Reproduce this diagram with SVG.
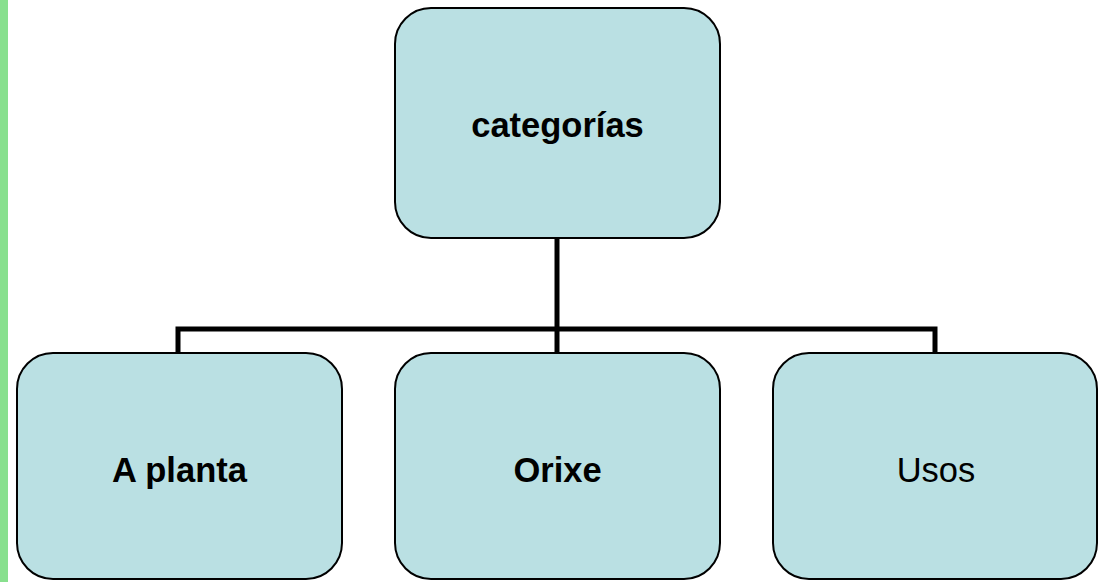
<svg xmlns="http://www.w3.org/2000/svg" width="1098" height="582" viewBox="0 0 1098 582">
  <style>
    .box { fill: #bae0e3; stroke: #000; stroke-width: 2; }
    .lbl { font-family: "Liberation Sans", Arial, sans-serif; font-size: 34.5px; fill: #000; text-anchor: middle; }
    .b { font-weight: bold; }
    .wire { fill: none; stroke: #000; stroke-width: 5; stroke-linejoin: miter; }
  </style>
  <rect x="0" y="0" width="1098" height="582" fill="#fff"/>
  <rect x="0" y="0" width="8" height="582" fill="#88e08e"/>

  <g id="connectors">
    <path class="wire" d="M557 238 V329"/>
    <path class="wire" d="M178 353 V329 H935 V353"/>
    <path class="wire" d="M557 329 V353"/>
  </g>

  <g id="node-categorias">
    <rect class="box" x="395" y="8" width="325" height="230" rx="36" ry="36"/>
    <text class="lbl b" x="557.5" y="137">categorías</text>
  </g>
  <g id="node-planta">
    <rect class="box" x="17" y="353" width="325" height="226" rx="36" ry="36"/>
    <text class="lbl b" x="179.5" y="482">A planta</text>
  </g>
  <g id="node-orixe">
    <rect class="box" x="395" y="353" width="325" height="226" rx="36" ry="36"/>
    <text class="lbl b" x="557.5" y="482">Orixe</text>
  </g>
  <g id="node-usos">
    <rect class="box" x="773" y="353" width="324" height="226" rx="36" ry="36"/>
    <text class="lbl" x="936" y="482">Usos</text>
  </g>
</svg>
